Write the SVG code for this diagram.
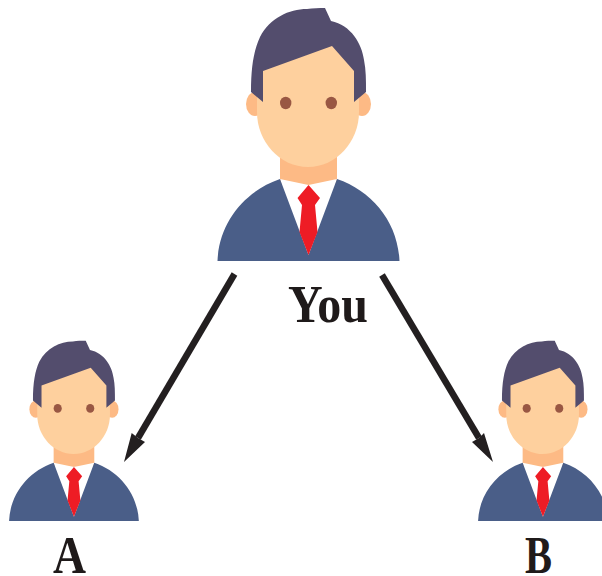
<svg xmlns="http://www.w3.org/2000/svg" xmlns:xlink="http://www.w3.org/1999/xlink" width="602" height="576" viewBox="0 0 602 576">
<style>
.hair{fill:#534d6d}.face{fill:#fed09e}.skin2{fill:#fdba85}.suit{fill:#4a5e88}.tie{fill:#ee1c25}.eye{fill:#995743}.shirt{fill:#fff}
.lbl{font-family:"Liberation Serif",serif;font-weight:bold;fill:#1f1a1a}
.arrow{stroke:#231f20;stroke-width:6.500;fill:none}.head{fill:#231f20}
</style>
<defs>
<g id="person">
<ellipse class="skin2" cx="255" cy="104" rx="9" ry="12"/>
<ellipse class="skin2" cx="362" cy="104" rx="9" ry="12"/>
<rect class="skin2" x="280" y="140" width="57" height="45"/>
<path class="face" d="M257,70L300,40H335L359,70V112C359,142 336,167 308,167C280,167 257,142 257,112Z"/>
<path class="hair" d="M251,92C251,66 254,50 260,37C270,18 289,9 307,9C313,8 319,8 325,8L331,21C351,25 362,44 364,60C366,70 366,80 366,92L354,102V71L332,46L263,71V102Z"/>
<ellipse class="eye" cx="285.700" cy="103" rx="5.700" ry="6.200"/>
<ellipse class="eye" cx="331.300" cy="103" rx="5.700" ry="6.200"/>
<path class="shirt" d="M280,179L308.500,185L337,179L320,235H297Z"/>
<path class="suit" d="M217.500,261C219,222 245,191 280,179L308.500,255L337,179C372,191 398,222 399.500,261Z"/>
<path class="tie" d="M308.500,185L320,198L315,205L317.500,232L308.500,255L299.500,232L302,205L297.500,198Z"/>
</g>
</defs>
<g id="node-you"><use xlink:href="#person" href="#person"/><text class="lbl" x="288" y="322" font-size="52" textLength="80" lengthAdjust="spacingAndGlyphs">You</text></g>
<g id="node-a"><use xlink:href="#person" href="#person" transform="translate(-146,335) scale(0.713)"/><text class="lbl" x="53" y="573" font-size="52" textLength="33" lengthAdjust="spacingAndGlyphs">A</text></g>
<g id="node-b"><use xlink:href="#person" href="#person" transform="translate(323,335) scale(0.713)"/><text class="lbl" x="525" y="573" font-size="52" textLength="27" lengthAdjust="spacingAndGlyphs">B</text></g>
<g id="connectors">
<path class="arrow" d="M234.500,274L138,438"/><path class="head" d="M124,462L131.700,433L138,438L145,442Z"/>
<path class="arrow" d="M382,275L479,438"/><path class="head" d="M493,462L472,442L479,438L484,433Z"/>
</g>
</svg>
